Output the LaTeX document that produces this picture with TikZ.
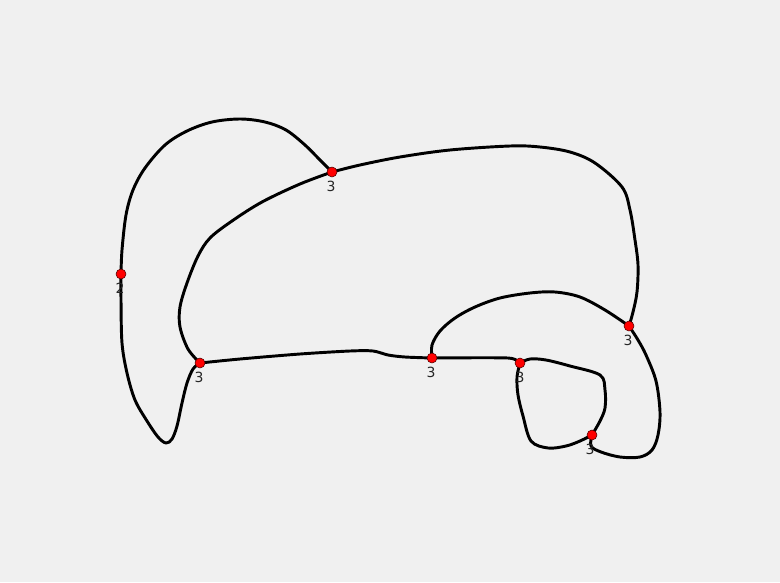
\documentclass[tikz,border=0pt]{standalone}
\usepackage{fontspec}
\setmainfont{DejaVu Sans}
\definecolor{bg}{HTML}{F0F0F0}
\definecolor{dotred}{HTML}{FF0000}
\begin{document}
\begin{tikzpicture}[x=0.75pt,y=-0.75pt,
  edge/.style={line width=2.2pt,line join=round,line cap=round},
  vdot/.style={circle,fill=dotred,draw=black!70!red,line width=0.4pt,minimum size=7.5pt,inner sep=0pt},
  vlab/.style={font=\fontsize{10.5pt}{12pt}\selectfont,text=black!85,inner sep=0pt}]
\fill[bg] (0,0) rectangle (780,582);
\useasboundingbox (0,0) rectangle (780,582);
% vertices
\coordinate (A) at (121,274);
\coordinate (B) at (332,172);
\coordinate (C) at (200,363);
\coordinate (D) at (432,358);
\coordinate (E) at (520,363);
\coordinate (F) at (629,326);
\coordinate (G) at (592,435);
% edges
\draw[edge] plot[smooth,tension=0.55] coordinates {(A) (122,250) (126,215) (133,190) (145,168) (165,145) (187,131) (212,122) (240,119) (265,122) (286,130) (305,145) (320,160) (B)};
\draw[edge] plot[smooth,tension=0.55] coordinates {(A) (121,300) (122,343) (127,373) (135,400) (147,421) (158,437) (166,443) (172,439) (177,426) (182,403) (187,383) (193,369) (C)};
\draw[edge] plot[smooth,tension=0.55] coordinates {(B) (300,184) (262,202) (232,221) (210,238) (198,256) (187,283) (180,307) (180,327) (188,349) (C)};
\draw[edge] plot[smooth,tension=0.55] coordinates {(B) (360,165) (400,157) (450,150) (510,146) (540,147) (570,152) (595,163) (622,187) (630,210) (635,240) (638,265) (637,292) (633,312) (F)};
\draw[edge] plot[smooth,tension=0.5] coordinates {(C) (240,359) (300,354) (350,351) (373,351) (388,355) (405,357) (D)};
\draw[edge] plot[smooth,tension=0.55] coordinates {(D) (432,345) (440,331) (455,318) (475,307) (500,298) (530,293) (555,292) (580,297) (605,310) (F)};
\draw[edge] plot[smooth,tension=0.4] coordinates {(D) (508,358) (E)};
\draw[edge] plot[smooth,tension=0.55] coordinates {(E) (517,377) (518,395) (523,416) (531,441) (548,448) (566,446) (580,441) (G)};
\draw[edge] plot[smooth,tension=0.55] coordinates {(E) (530,359) (546,360) (570,366) (600,375) (605,390) (605,408) (600,421) (G)};
\draw[edge] plot[smooth,tension=0.55] coordinates {(G) (591,446) (601,452) (620,457) (640,457) (652,450) (658,435) (660,412) (656,381) (646,355) (638,340) (F)};
% dots
\foreach \v in {A,B,C,D,E,F,G} { \node[vdot] (dot\v) at (\v) {}; }
% labels
\node[vlab] (lA) at (120,288) {2};
\node[vlab] (lB) at (331,186) {3};
\node[vlab] (lC) at (199,377) {3};
\node[vlab] (lD) at (431,372) {3};
\node[vlab] (lE) at (520,377) {3};
\node[vlab] (lF) at (628,340) {3};
\node[vlab] (lG) at (590,449) {3};
\end{tikzpicture}
\end{document}
